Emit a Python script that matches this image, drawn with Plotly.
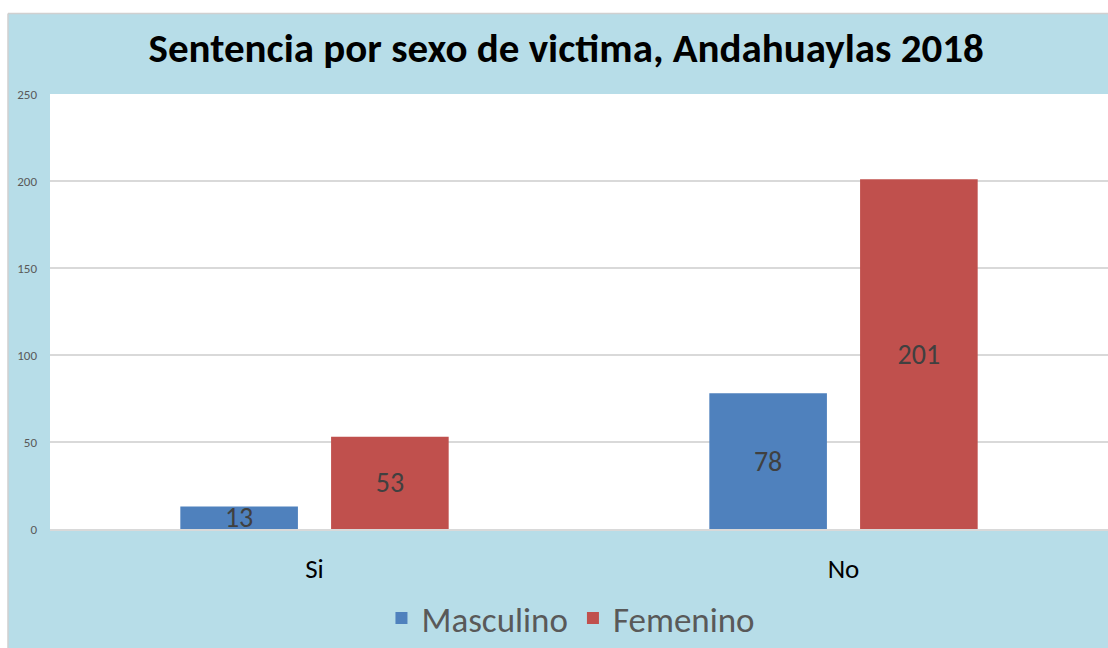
import plotly.graph_objects as go

# Data
categories = ["Si", "No"]
masculino = [13, 78]
femenino = [53, 201]
y_ticks = [0, 50, 100, 150, 200, 250]

BLUE = "#4f81bd"
RED = "#c0504d"
PANEL = "#b7dde8"
FONT = "Carlito, Lato, sans-serif"

fig = go.Figure()
for name, vals, color in [("Masculino", masculino, BLUE), ("Femenino", femenino, RED)]:
    fig.add_trace(
        go.Bar(
            x=categories,
            y=vals,
            name=name,
            marker=dict(color=color, line=dict(width=0)),
            text=vals,
            textposition="inside",
            insidetextanchor="middle",
            constraintext="none",
            textangle=0,
            textfont=dict(color="#404040", size=28, family=FONT),
        )
    )

# white strips and light border at the top/left of the blue panel
shapes = [
    dict(type="rect", xref="paper", yref="paper", x0=-0.06, x1=-0.0397, y0=-0.3, y1=1.25,
         fillcolor="white", line_width=0, layer="below"),
    dict(type="rect", xref="paper", yref="paper", x0=-0.06, x1=1.01, y0=1.185, y1=1.25,
         fillcolor="white", line_width=0, layer="below"),
    dict(type="line", xref="paper", yref="paper", x0=-0.0397, x1=-0.0397, y0=-0.3, y1=1.185,
         line=dict(color="#d0d0d0", width=1.5)),
    dict(type="line", xref="paper", yref="paper", x0=-0.0397, x1=1.01, y0=1.185, y1=1.185,
         line=dict(color="#d0d0d0", width=1.5)),
]

fig.update_layout(
    width=1108,
    height=648,
    margin=dict(l=50, r=0, t=94, b=116),
    paper_bgcolor=PANEL,
    plot_bgcolor="white",
    barmode="group",
    bargap=0.43,
    bargroupgap=0.22,
    font=dict(family=FONT),
    title=dict(
        text="<b>Sentencia por sexo de victima, Andahuaylas 2018</b>",
        x=0.511,
        xanchor="center",
        y=0.926,
        yanchor="middle",
        font=dict(size=41, color="black", family=FONT),
    ),
    legend=dict(
        orientation="h",
        x=0.4924,
        xanchor="center",
        y=-0.205,
        yanchor="middle",
        font=dict(size=35, color="#595959", family=FONT),
        bgcolor="rgba(0,0,0,0)",
        itemwidth=30,
    ),
    shapes=shapes,
)
fig.update_xaxes(
    showgrid=False,
    showline=True,
    linecolor="#d9d9d9",
    linewidth=2,
    ticks="",
    tickfont=dict(size=27, color="black", family=FONT),
    ticklabelstandoff=15,
)
fig.update_yaxes(
    range=[0, 250],
    tickvals=y_ticks,
    showgrid=True,
    gridcolor="#d9d9d9",
    gridwidth=1.5,
    zeroline=False,
    showline=False,
    tickfont=dict(size=13, color="#595959", family=FONT),
    ticklabelstandoff=12,
)

# drop the default page margin/scrollbars so the figure sits at the window origin
fig.write_html(
    "out.html",
    config={"displayModeBar": False},
    post_script="document.body.style.margin='0'; document.body.style.overflow='hidden';",
)
